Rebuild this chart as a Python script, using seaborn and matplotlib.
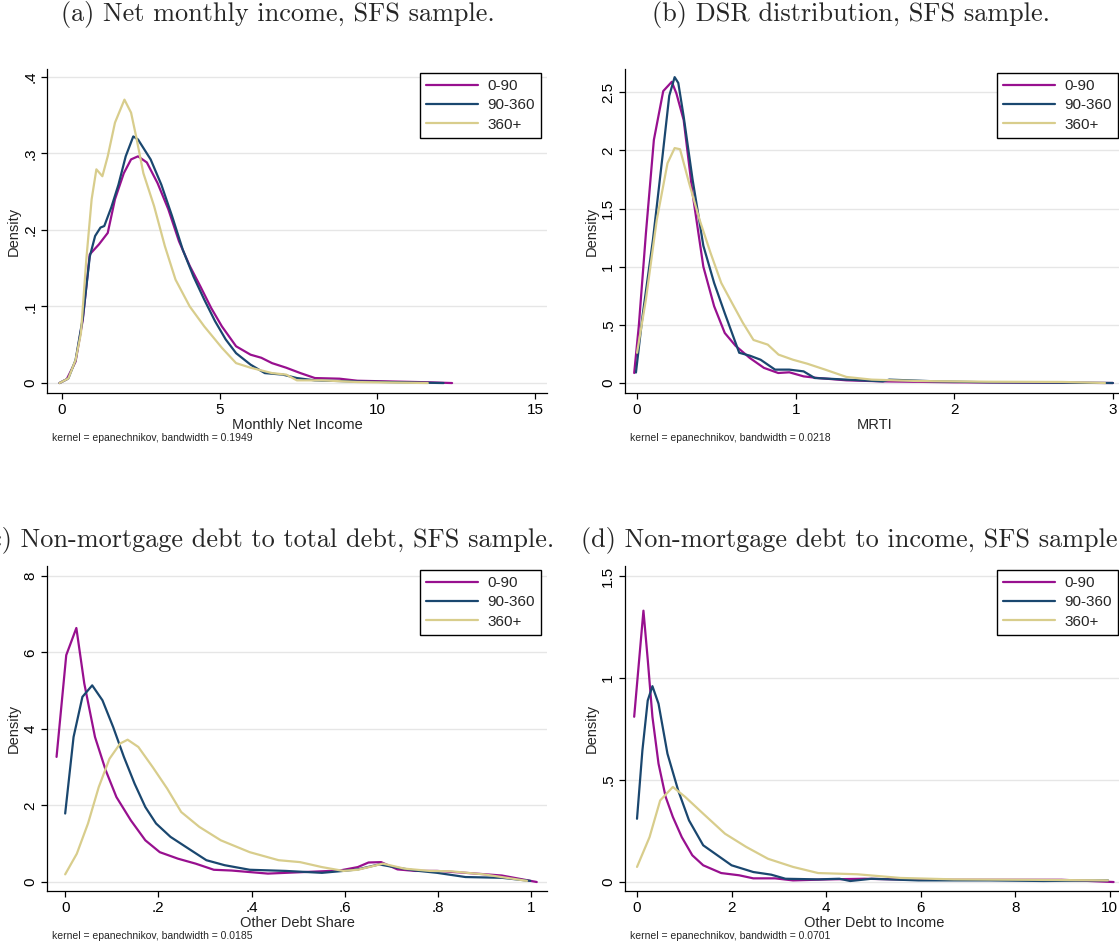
import numpy as np
import pandas as pd
import matplotlib
matplotlib.use("Agg")
import matplotlib.pyplot as plt
import seaborn as sns

groups = ["0-90", "90-360", "360+"]
colors = ["#98108f", "#1a476f", "#d8cd8c"]

# (a) Monthly Net Income
a_x_090 = [-0.08, 0.15, 0.43, 0.66, 0.88, 1.17, 1.45, 1.68, 1.96, 2.19, 2.41, 2.69, 3.03, 3.37, 3.71, 4.05,
           4.39, 4.73, 5.07, 5.52, 5.98, 6.32, 6.66, 7.11, 7.56, 8.02, 8.8, 9.37, 10.5, 11.6, 12.37]
a_y_090 = [0.0, 0.005, 0.028, 0.083, 0.168, 0.181, 0.196, 0.240, 0.274, 0.292, 0.296, 0.288, 0.261, 0.227, 0.185, 0.153,
           0.126, 0.098, 0.074, 0.048, 0.037, 0.033, 0.026, 0.020, 0.013, 0.0065, 0.0057, 0.003, 0.002, 0.001, 0.0]
a_x_90360 = [-0.08, 0.2, 0.43, 0.66, 0.88, 1.05, 1.22, 1.34, 1.56, 1.79, 2.02, 2.26, 2.41, 2.81, 3.15, 3.49,
             3.83, 4.17, 4.51, 4.85, 5.19, 5.52, 5.98, 6.43, 7.0, 7.45, 8.02, 9.37, 12.1]
a_y_90360 = [0.0, 0.006, 0.03, 0.085, 0.165, 0.192, 0.203, 0.205, 0.229, 0.259, 0.296, 0.322, 0.318, 0.292, 0.259, 0.218,
             0.174, 0.139, 0.109, 0.081, 0.057, 0.039, 0.024, 0.013, 0.011, 0.0065, 0.0035, 0.002, 0.0]
a_x_360 = [-0.08, 0.2, 0.43, 0.6, 0.77, 0.94, 1.09, 1.28, 1.45, 1.68, 1.98, 2.19, 2.35, 2.58, 2.92, 3.26,
           3.6, 4.05, 4.51, 5.07, 5.52, 5.98, 6.66, 7.11, 7.45, 8.24, 9.37, 11.6]
a_y_360 = [0.0, 0.006, 0.03, 0.065, 0.161, 0.24, 0.279, 0.27, 0.296, 0.340, 0.370, 0.353, 0.322, 0.274, 0.231, 0.179,
           0.135, 0.100, 0.074, 0.046, 0.026, 0.020, 0.013, 0.011, 0.0035, 0.0035, 0.0013, 0.0]

# (b) MRTI
b_x_090 = [-0.018, 0.011, 0.056, 0.106, 0.165, 0.219, 0.248, 0.294, 0.35, 0.418, 0.486, 0.553, 0.621, 0.711,
           0.80, 0.89, 0.96, 1.05, 1.14, 1.32, 1.55, 2.0, 3.0]
b_y_090 = [0.086, 0.49, 1.29, 2.09, 2.51, 2.59, 2.49, 2.26, 1.63, 1.0, 0.66, 0.43, 0.32, 0.215,
           0.13, 0.086, 0.092, 0.057, 0.043, 0.023, 0.014, 0.006, 0.0]
b_x_90360 = [-0.007, 0.034, 0.10, 0.158, 0.203, 0.237, 0.26, 0.294, 0.35, 0.418, 0.486, 0.553, 0.644, 0.711,
             0.779, 0.87, 0.96, 1.05, 1.12, 1.32, 1.55, 1.59, 1.89, 2.22, 3.0]
b_y_90360 = [0.09, 0.57, 1.23, 1.92, 2.47, 2.63, 2.58, 2.29, 1.75, 1.18, 0.86, 0.60, 0.26, 0.235,
             0.20, 0.115, 0.115, 0.10, 0.043, 0.029, 0.014, 0.029, 0.014, 0.006, 0.0]
b_x_360 = [0.0, 0.056, 0.124, 0.192, 0.237, 0.271, 0.328, 0.395, 0.463, 0.531, 0.598, 0.666, 0.734, 0.824,
           0.892, 0.983, 1.073, 1.186, 1.32, 1.48, 1.77, 2.22, 2.68, 2.95]
b_y_360 = [0.26, 0.72, 1.40, 1.89, 2.02, 2.01, 1.72, 1.40, 1.12, 0.86, 0.69, 0.52, 0.37, 0.33,
           0.244, 0.20, 0.166, 0.115, 0.052, 0.029, 0.017, 0.011, 0.009, 0.0]

# (c) Other Debt Share
c_x_090 = [-0.0185, 0.0023, 0.024, 0.041, 0.064, 0.087, 0.110, 0.141, 0.172, 0.203, 0.242, 0.280, 0.319, 0.357,
           0.396, 0.435, 0.512, 0.589, 0.628, 0.651, 0.678, 0.713, 0.751, 0.798, 0.859, 0.937, 1.012]
c_y_090 = [3.27, 5.93, 6.64, 5.19, 3.79, 2.92, 2.22, 1.61, 1.09, 0.78, 0.61, 0.48, 0.32, 0.30,
           0.26, 0.22, 0.26, 0.30, 0.39, 0.51, 0.52, 0.33, 0.29, 0.29, 0.24, 0.17, 0.0]
c_x_90360 = [0.0, 0.018, 0.037, 0.058, 0.080, 0.103, 0.126, 0.149, 0.172, 0.195, 0.226, 0.265, 0.303, 0.342,
             0.396, 0.473, 0.551, 0.597, 0.628, 0.674, 0.705, 0.751, 0.798, 0.859, 0.937, 0.998]
c_y_90360 = [1.79, 3.79, 4.84, 5.14, 4.75, 4.05, 3.27, 2.57, 1.96, 1.53, 1.18, 0.87, 0.57, 0.44,
             0.32, 0.29, 0.24, 0.29, 0.33, 0.46, 0.39, 0.30, 0.24, 0.13, 0.11, 0.03]
c_x_360 = [0.0, 0.025, 0.049, 0.072, 0.095, 0.118, 0.134, 0.157, 0.188, 0.219, 0.249, 0.288, 0.334, 0.396,
           0.458, 0.504, 0.551, 0.597, 0.628, 0.682, 0.728, 0.782, 0.828, 0.898, 0.991]
c_y_360 = [0.20, 0.74, 1.53, 2.48, 3.22, 3.62, 3.72, 3.53, 3.0, 2.44, 1.83, 1.44, 1.09, 0.78,
           0.57, 0.52, 0.39, 0.29, 0.32, 0.48, 0.35, 0.29, 0.28, 0.20, 0.03]

# (d) Other Debt to Income
d_x_090 = [-0.06, 0.038, 0.136, 0.227, 0.326, 0.455, 0.606, 0.758, 0.947, 1.17, 1.40, 1.78, 2.16, 2.46,
           2.92, 3.30, 4.05, 4.81, 5.95, 7.46, 8.98, 10.08]
d_y_090 = [0.81, 1.07, 1.33, 1.09, 0.81, 0.58, 0.417, 0.319, 0.22, 0.131, 0.082, 0.044, 0.033, 0.018,
           0.018, 0.008, 0.013, 0.016, 0.011, 0.011, 0.011, 0.0]
d_x_90360 = [0.0, 0.114, 0.227, 0.326, 0.455, 0.644, 0.871, 1.1, 1.40, 1.70, 2.0, 2.46, 2.84, 3.14,
             3.83, 4.28, 4.51, 4.96, 5.95, 7.46, 8.6, 9.96]
d_y_90360 = [0.31, 0.645, 0.89, 0.96, 0.874, 0.629, 0.449, 0.302, 0.18, 0.131, 0.082, 0.049, 0.036, 0.016,
             0.013, 0.016, 0.005, 0.016, 0.008, 0.008, 0.005, 0.008]
d_x_360 = [0.0, 0.265, 0.49, 0.758, 1.02, 1.40, 1.86, 2.31, 2.77, 3.30, 3.83, 4.66, 5.57, 6.70, 8.22, 9.96]
d_y_360 = [0.074, 0.22, 0.40, 0.466, 0.417, 0.335, 0.237, 0.172, 0.114, 0.074, 0.044, 0.038, 0.020, 0.013, 0.011, 0.008]

titles = ["(a) Net monthly income, SFS sample.", "(b) DSR distribution, SFS sample.",
          "(c) Non-mortgage debt to total debt, SFS sample.", "(d) Non-mortgage debt to income, SFS sample."]
xlabels = ["Monthly Net Income", "MRTI", "Other Debt Share", "Other Debt to Income"]
notes = ["kernel = epanechnikov, bandwidth = 0.1949", "kernel = epanechnikov, bandwidth = 0.0218",
         "kernel = epanechnikov, bandwidth = 0.0185", "kernel = epanechnikov, bandwidth = 0.0701"]
xticks = [[0, 5, 10, 15], [0, 1, 2, 3], [0, .2, .4, .6, .8, 1], [0, 2, 4, 6, 8, 10]]
yticks = [[0, .1, .2, .3, .4], [0, .5, 1, 1.5, 2, 2.5], [0, 2, 4, 6, 8], [0, .5, 1, 1.5]]
xlims = [(-0.476, 15.38), (-0.076, 3.07), (-0.039, 1.034), (-0.254, 10.3)]
ylims = [(-0.013, 0.41), (-0.086, 2.70), (-0.235, 8.26), (-0.044, 1.549)]

panels = [
    [(a_x_090, a_y_090), (a_x_90360, a_y_90360), (a_x_360, a_y_360)],
    [(b_x_090, b_y_090), (b_x_90360, b_y_90360), (b_x_360, b_y_360)],
    [(c_x_090, c_y_090), (c_x_90360, c_y_90360), (c_x_360, c_y_360)],
    [(d_x_090, d_y_090), (d_x_90360, d_y_90360), (d_x_360, d_y_360)],
]

sns.set_theme(style="white")
plt.rcParams["font.family"] = ["Liberation Sans", "DejaVu Sans"]

W, H = 1119, 949
fig = plt.figure(figsize=(W / 100, H / 100), dpi=100)

# axes boxes in pixels: left, top, right, bottom
boxes = [(47, 69, 547, 393), (625, 69, 1124, 393), (47, 566, 547, 891), (625, 566, 1124, 891)]
title_pos = [(278, 15), (851, 15), (267, 541), (853, 541)]


def fmt(v, pos=None):
    s = f"{v:g}"
    if s.startswith("0."):
        s = s[1:]
    return s


for i in range(4):
    l, t, r, b = boxes[i]
    ax = fig.add_axes([l / W, 1 - b / H, (r - l) / W, (b - t) / H])
    rows = []
    for g, (xs, ys) in zip(groups, panels[i]):
        rows.append(pd.DataFrame({"x": xs, "y": ys, "group": g}))
    df = pd.concat(rows)
    sns.lineplot(data=df, x="x", y="y", hue="group", hue_order=groups, palette=colors,
                 linewidth=1.6, sort=False, estimator=None, ax=ax)
    ax.set_xlim(xlims[i])
    ax.set_ylim(ylims[i])
    ax.set_xticks(xticks[i])
    ax.set_yticks(yticks[i])
    ax.xaxis.set_major_formatter(plt.FuncFormatter(fmt))
    ax.yaxis.set_major_formatter(plt.FuncFormatter(fmt))
    ax.tick_params(axis="both", direction="out", length=4, width=0.9, color="black",
                   labelsize=11, labelcolor="black", bottom=True, left=True, pad=3)
    for lab in ax.get_yticklabels():
        lab.set_rotation(90)
        lab.set_va("center")
    ax.grid(axis="y", color="#e6e6e6", linewidth=1)
    ax.set_axisbelow(True)
    for s in ["top", "right"]:
        ax.spines[s].set_visible(False)
    for s in ["left", "bottom"]:
        ax.spines[s].set_color("black")
        ax.spines[s].set_linewidth(0.9)
    ax.set_xlabel(xlabels[i], fontsize=10.5, labelpad=1)
    ax.set_ylabel("Density", fontsize=10.5, labelpad=2)
    leg = ax.legend(loc="upper right", bbox_to_anchor=(1 - 6 / (r - l), 1 - 4 / (b - t)),
                    borderaxespad=0, fontsize=11, handlelength=3.4, labelspacing=0.35,
                    frameon=True, fancybox=False, framealpha=1, edgecolor="black",
                    borderpad=0.4, handletextpad=0.6)
    leg.get_frame().set_linewidth(1.0)
    for line in leg.get_lines():
        line.set_linewidth(1.6)
    fig.text((l + 5) / W, 1 - (b + 45) / H, notes[i], fontsize=7.5, ha="left", va="center")
    tx, ty = title_pos[i]
    fig.text(tx / W, 1 - ty / H, titles[i], family="cmr10", fontsize=18.9, ha="center", va="center")

fig.savefig("out.png", dpi=100)
